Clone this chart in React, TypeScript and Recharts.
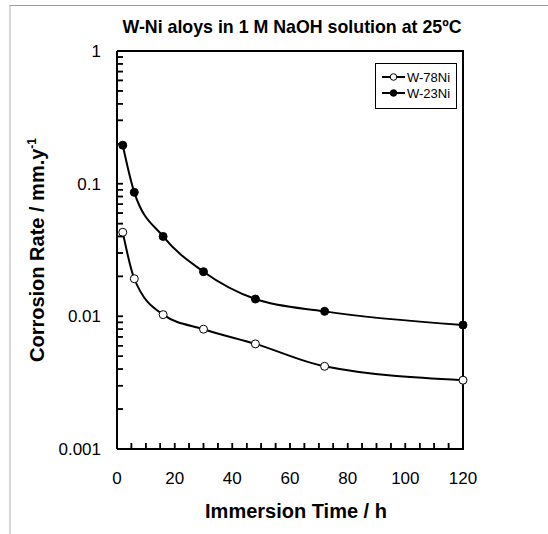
import React from 'react';
import { LineChart, Line, XAxis, YAxis } from 'recharts';

const times = [2, 6, 16, 30, 48, 72, 120];
const w78Ni = [0.043, 0.0192, 0.0103, 0.008, 0.0062, 0.0042, 0.0033];
const w23Ni = [0.195, 0.086, 0.04, 0.0217, 0.0135, 0.0109, 0.0086];
const seriesNames = ['W-78Ni', 'W-23Ni'];

const xMajorTicks = [0, 20, 40, 60, 80, 100, 120];
const xAllTicks = [0, 5, 10, 15, 20, 25, 30, 35, 40, 45, 50, 55, 60, 65, 70, 75, 80, 85, 90, 95, 100, 105, 110, 115, 120];
const yMajorTicks = [0.001, 0.01, 0.1, 1];
const yMajorLabels = ['0.001', '0.01', '0.1', '1'];
const yMinorMultipliers = [1, 2, 3, 4, 5, 6, 7, 8, 9];

const title = 'W-Ni aloys in 1 M NaOH solution at 25ºC';
const xTitle = 'Immersion Time / h';
const yTitleMain = 'Corrosion Rate / mm.y';
const yTitleSup = '-1';

const yAllTicks: number[] = [];
yMajorTicks.slice(0, 3).forEach((d) => {
  yMinorMultipliers.forEach((m) => yAllTicks.push(+(d * m).toPrecision(6)));
});
yAllTicks.push(1);

const data = times.map((t, i) => ({ t, w78: w78Ni[i], w23: w23Ni[i] }));

const FONT = '"Liberation Sans", Arial, sans-serif';

const XTick = (props: any) => {
  const { x, y, payload } = props;
  const major = xMajorTicks.includes(payload.value);
  return (
    <g>
      <path d={`M${x},${y}V${y - 6}`} stroke="#000" strokeWidth={1.5} fill="none" />
      {major && (
        <text x={x} y={y + 29} dy="0.355em" textAnchor="middle" fontSize={17} fontFamily={FONT} fill="#000">
          {payload.value}
        </text>
      )}
    </g>
  );
};

const YTick = (props: any) => {
  const { x, y, payload } = props;
  const idx = yMajorTicks.findIndex((v) => Math.abs(v - payload.value) / v < 1e-6);
  return (
    <g>
      <path d={`M${x},${y}H${x + 6}`} stroke="#000" strokeWidth={1.5} fill="none" />
      {idx >= 0 && (
        <text x={x - 16} y={y} dy="0.355em" textAnchor="end" fontSize={17} fontFamily={FONT} fill="#000">
          {yMajorLabels[idx]}
        </text>
      )}
    </g>
  );
};

const YTitle = (props: any) => {
  const vb = props.viewBox;
  const cx = vb.x + 37;
  const cy = vb.y + vb.height / 2;
  return (
    <text
      x={cx}
      y={cy}
      transform={`rotate(-90 ${cx} ${cy})`}
      textAnchor="middle"
      dy="0.355em"
      fontSize={20}
      fontWeight="bold"
      fontFamily={FONT}
      fill="#000"
    >
      {yTitleMain}
      <tspan fontSize={12} dy={-8}>{yTitleSup}</tspan>
    </text>
  );
};

const XTitle = (props: any) => {
  const vb = props.viewBox;
  const cx = vb.x + vb.width / 2 + 6;
  const cy = vb.y + 62;
  return (
    <text x={cx} y={cy} textAnchor="middle" dy="0.355em" fontSize={20} fontWeight="bold" fontFamily={FONT} fill="#000">
      {xTitle}
    </text>
  );
};

const LegendRow = ({ name, filled }: { name: string; filled: boolean }) => (
  <div style={{ display: 'flex', alignItems: 'center', height: 16 }}>
    <svg width={25} height={10} style={{ marginLeft: 5 }}>
      <line x1={1} y1={5} x2={24} y2={5} stroke="#000" strokeWidth={2} />
      <circle cx={12.5} cy={5} r={3.3} fill={filled ? '#000' : '#fff'} stroke="#000" strokeWidth={1} />
    </svg>
    <span style={{ fontSize: 13, marginLeft: 1, color: '#000' }}>{name}</span>
  </div>
);

export default function App() {
  return (
    <div style={{ position: 'absolute', left: 0, top: 0, width: 548, height: 534, background: '#fff', fontFamily: FONT }}>
      <div
        style={{
          position: 'absolute',
          left: 9,
          top: 5,
          width: 539,
          height: 529,
          borderTop: '1px solid #9a9a9a',
          borderLeft: '2px solid #d6d6d6',
          boxSizing: 'border-box',
        }}
      />
      <div
        style={{
          position: 'absolute',
          left: 112,
          top: 16,
          width: 360,
          textAlign: 'center',
          fontSize: 17.8,
          fontWeight: 'bold',
          color: '#000',
          lineHeight: '22px',
        }}
      >
        {title}
      </div>
      <div
        style={{
          position: 'absolute',
          left: 117,
          top: 50,
          width: 347,
          height: 400,
          borderTop: '2px solid #000',
          borderRight: '2px solid #000',
          boxSizing: 'border-box',
          pointerEvents: 'none',
        }}
      />
      <div style={{ position: 'absolute', left: 0, top: 0 }}>
        <LineChart width={548} height={534} data={data} margin={{ top: 51, right: 85, left: 0, bottom: 0 }}>
          <XAxis
            dataKey="t"
            type="number"
            domain={[0, 120]}
            ticks={xAllTicks}
            interval={0}
            height={85}
            tickSize={-6}
            tickMargin={6}
            tickLine={{ stroke: '#000', strokeWidth: 1.5 }}
            tick={<XTick />}
            axisLine={{ stroke: '#000', strokeWidth: 2 }}
            label={<XTitle />}
          />
          <YAxis
            type="number"
            scale="log"
            domain={[0.001, 1]}
            ticks={yAllTicks}
            interval={0}
            width={117}
            tickSize={-6}
            tickMargin={6}
            tickLine={{ stroke: '#000', strokeWidth: 1.5 }}
            tick={<YTick />}
            axisLine={{ stroke: '#000', strokeWidth: 2 }}
            label={<YTitle />}
          />
          <Line
            dataKey="w23"
            name={seriesNames[1]}
            type="monotone"
            stroke="#000"
            strokeWidth={2}
            dot={{ r: 4, fill: '#000', stroke: '#000', strokeWidth: 1, clipDot: false } as any}
            isAnimationActive={false}
          />
          <Line
            dataKey="w78"
            name={seriesNames[0]}
            type="monotone"
            stroke="#000"
            strokeWidth={2}
            dot={{ r: 4, fill: '#fff', stroke: '#000', strokeWidth: 1, clipDot: false } as any}
            isAnimationActive={false}
          />
        </LineChart>
      </div>
      <div
        style={{
          position: 'absolute',
          left: 375,
          top: 63,
          width: 82,
          height: 46,
          border: '1px solid #000',
          boxSizing: 'border-box',
          background: '#fff',
          paddingTop: 5,
        }}
      >
        <LegendRow name={seriesNames[0]} filled={false} />
        <LegendRow name={seriesNames[1]} filled={true} />
      </div>
    </div>
  );
}
